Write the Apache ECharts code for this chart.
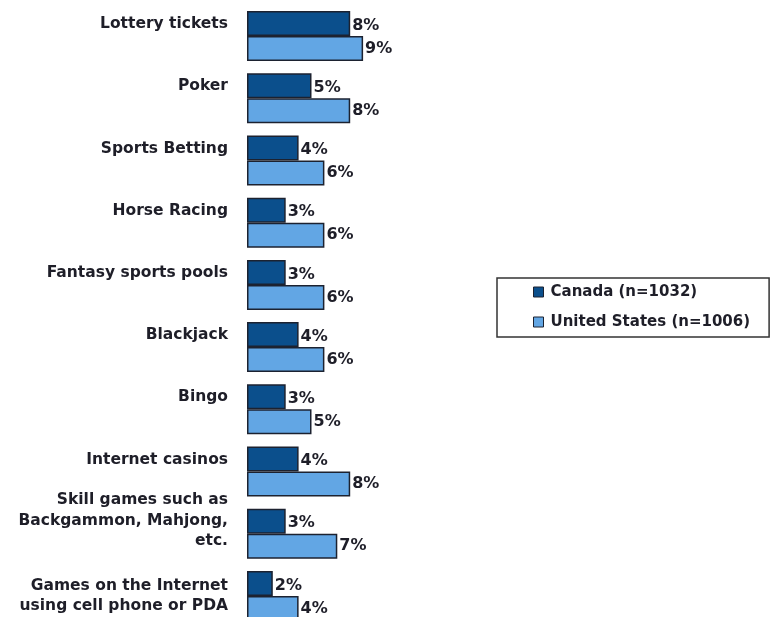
<!DOCTYPE html>
<html>
<head>
<meta charset="utf-8">
<script src="https://cdn.jsdelivr.net/npm/echarts@6/dist/echarts.min.js"></script>
<style>html,body{margin:0;padding:0;background:#fff;}#c{width:771px;height:617px;}</style>
</head>
<body>
<div id="c"></div>
<script>
var categories = [
  'Lottery tickets',
  'Poker',
  'Sports Betting',
  'Horse Racing',
  'Fantasy sports pools',
  'Blackjack',
  'Bingo',
  'Internet casinos',
  'Skill games such as\nBackgammon, Mahjong,\netc.',
  'Games on the Internet\nusing cell phone or PDA'
];
var canada = [8, 5, 4, 3, 3, 4, 3, 4, 3, 2];
var unitedStates = [9, 8, 6, 6, 6, 6, 5, 8, 7, 4];
var seriesNames = ['Canada (n=1032)', 'United States (n=1006)'];

var FONT = 'DejaVu Sans';
var TXT = '#1e1e28';

function catLabel(value, idx) {
  var lines = value.split('\n');
  if (lines.length === 1) return '{s|' + value + '}';
  var out = lines.map(function (l) { return '{m|' + l + '}'; }).join('\n');
  if (lines.length === 3) out += '\n{e| }';
  return out;
}

var chart = echarts.init(document.getElementById('c'), null, {renderer: 'canvas'});
chart.setOption({
  animation: false,
  backgroundColor: '#ffffff',
  grid: {left: 247, top: 5, width: 129, height: 622, containLabel: false, outerBoundsMode: 'none'},
  xAxis: {type: 'value', min: 0, max: 10, show: false},
  yAxis: {
    type: 'category',
    data: categories,
    inverse: true,
    axisLine: {show: false},
    axisTick: {show: false},
    splitLine: {show: false},
    axisLabel: {
      interval: 0,
      hideOverlap: false,
      margin: 19,
      formatter: catLabel,
      fontFamily: FONT,
      fontWeight: 'bold',
      fontSize: 15.5,
      color: TXT,
      rich: {
        s: {fontFamily: FONT, fontWeight: 'bold', fontSize: 15.5, color: TXT, lineHeight: 18, padding: [0, 0, 24, 0]},
        m: {fontFamily: FONT, fontWeight: 'bold', fontSize: 15.5, color: TXT, lineHeight: 20.5},
        e: {fontSize: 10, lineHeight: 26, height: 26}
      }
    }
  },
  legend: {
    orient: 'vertical',
    left: 497,
    top: 278,
    padding: [5, 19, 6, 36],
    itemGap: 12,
    itemWidth: 10,
    itemHeight: 10,
    icon: 'rect',
    borderColor: '#333333',
    borderWidth: 1.5,
    itemStyle: {borderColor: '#1c2230', borderWidth: 1},
    textStyle: {fontFamily: FONT, fontWeight: 'bold', fontSize: 15, color: TXT, lineHeight: 18, padding: [0, 0, 0, 2]},
    data: seriesNames
  },
  series: [
    {
      name: seriesNames[0],
      type: 'bar',
      data: canada,
      barWidth: 25,
      barGap: '0%',
      itemStyle: {color: '#0b4f8c', borderColor: '#1c2230', borderWidth: 1.5},
      label: {show: true, position: 'right', distance: 2, offset: [0, 2], formatter: '{c}%', fontFamily: FONT, fontWeight: 'bold', fontSize: 16, color: TXT}
    },
    {
      name: seriesNames[1],
      type: 'bar',
      data: unitedStates,
      barWidth: 25,
      barGap: '0%',
      itemStyle: {color: '#62a6e4', borderColor: '#1c2230', borderWidth: 1.5},
      label: {show: true, position: 'right', distance: 2, formatter: '{c}%', fontFamily: FONT, fontWeight: 'bold', fontSize: 16, color: TXT}
    }
  ]
});
</script>
</body>
</html>
